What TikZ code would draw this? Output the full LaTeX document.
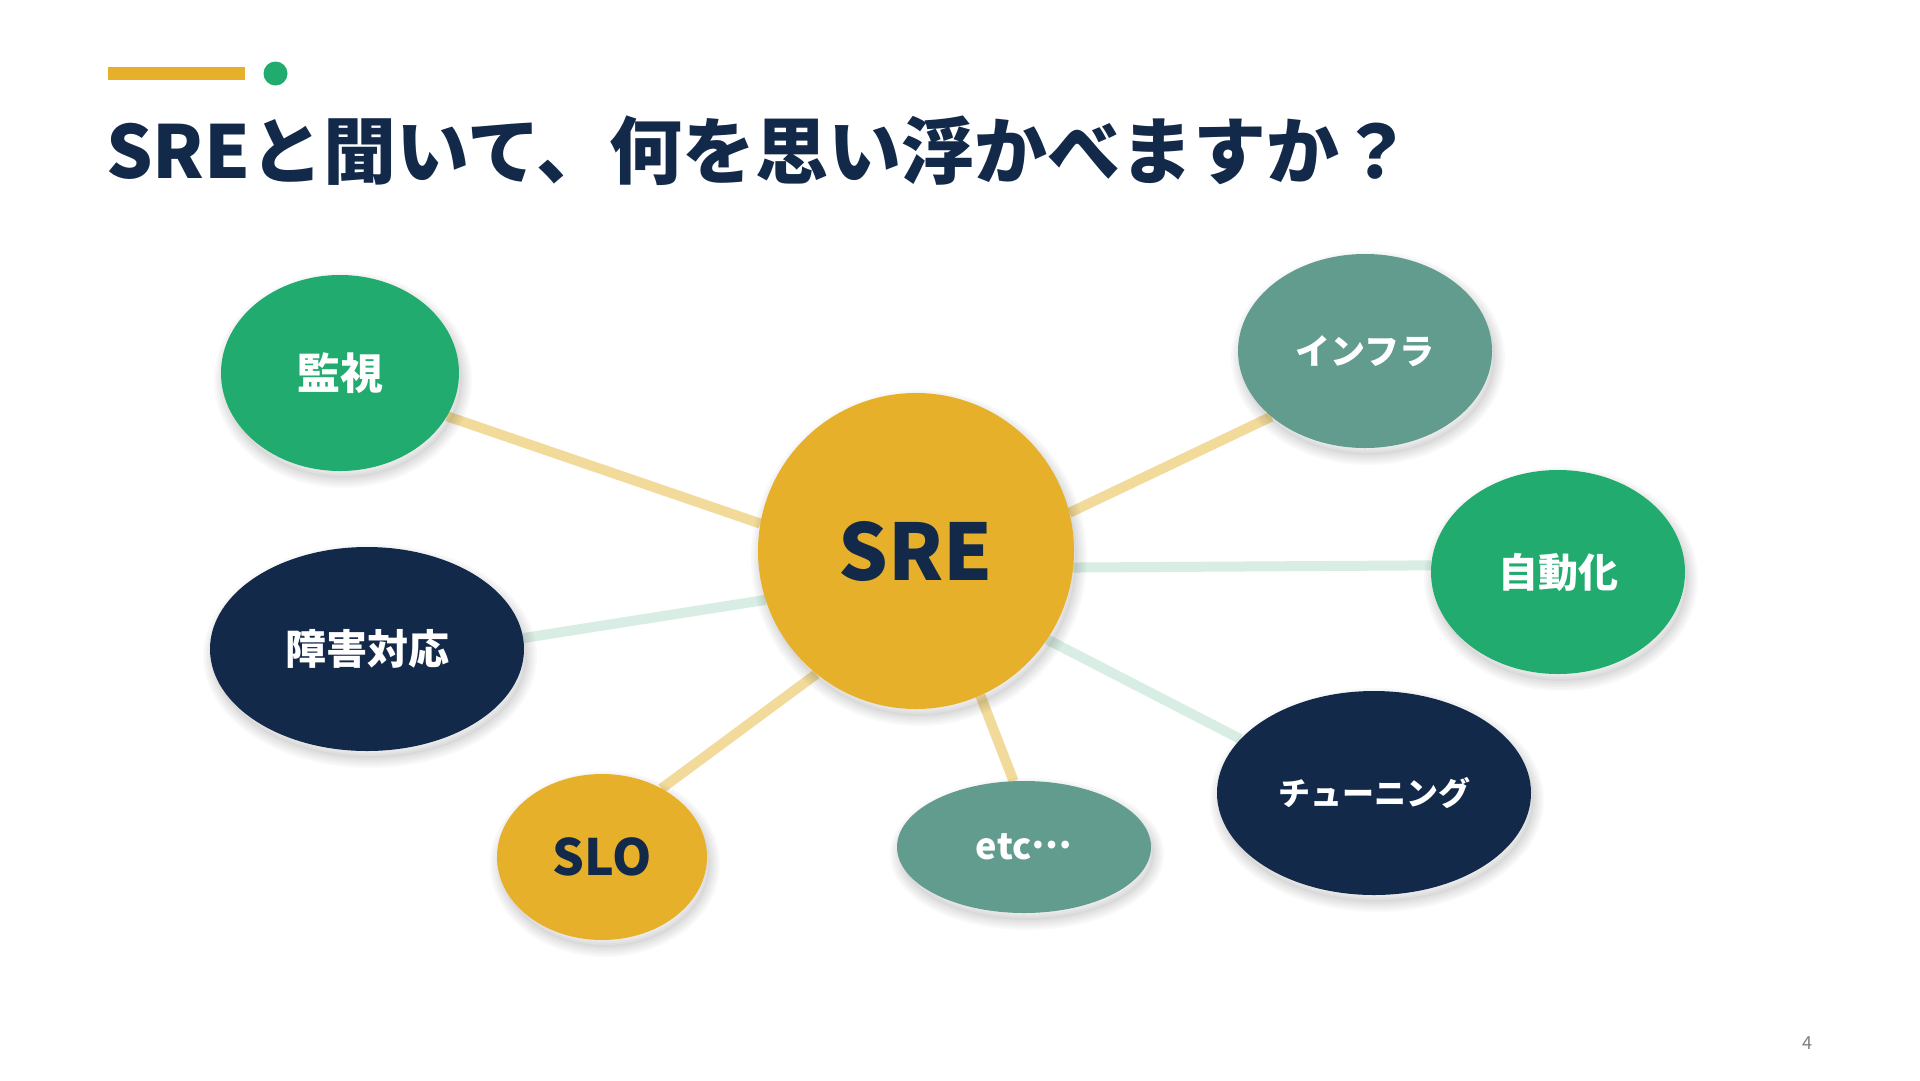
\documentclass[tikz,border=0pt]{standalone}
\usepackage{fontspec}
\newfontfamily\jp{Noto Sans CJK JP}
\usetikzlibrary{shapes.geometric,backgrounds}
\definecolor{cyellow}{HTML}{E6B02A}
\definecolor{cgreen}{HTML}{21AB6E}
\definecolor{cnavy}{HTML}{12294A}
\definecolor{cteal}{HTML}{629C8F}
\definecolor{lyellow}{HTML}{F2DA9A}
\definecolor{lgreen}{HTML}{D8EEE4}
\begin{document}
\begin{tikzpicture}[x=1pt,y=-1pt,
  shl/.style={preaction={draw=black, line width=#1, draw opacity=0.022,
      transform canvas={shift={(3pt,-7pt)}}}},
  bub/.style={ellipse, inner sep=0pt, text=white,
    preaction={fill=black, fill opacity=0.03, transform canvas={shift={(3pt,-7pt)}}},
    shl=4pt, shl=8pt, shl=12pt, shl=16pt, shl=20pt},
  lk/.style={line width=10pt},
  fs/.style={font=\jp\bfseries\fontsize{#1}{#1}\selectfont}]
\begin{pgfonlayer}{background}
\fill[white] (0,0) rectangle (1920,1080);
\end{pgfonlayer}
\useasboundingbox (0,0) rectangle (1920,1080);

% header decoration
\fill[cyellow] (108,67) rectangle (245,80);
\fill[cgreen] (275.5,73.5) circle (12);
\node[anchor=base west, inner sep=0pt, text=cnavy, fs=73] (title) at (106,178) {SREと聞いて、何を思い浮かべますか？};

% nodes
\node[bub, fill=cyellow, text=cnavy, minimum width=316pt, minimum height=316pt, fs=78] (sre) at (916,551) {SRE};
\node[bub, fill=cgreen, minimum width=238pt, minimum height=196pt, fs=43] (kanshi) at (340,373) {監視};
\node[bub, fill=cnavy, minimum width=314pt, minimum height=204pt, fs=41] (shogai) at (367,649) {障害対応};
\node[bub, fill=cyellow, text=cnavy, minimum width=210pt, minimum height=166pt, fs=50] (slo) at (602,857) {SLO};
\node[bub, fill=cteal, minimum width=254pt, minimum height=132pt, fs=36] (etc) at (1024,847) {etc\raisebox{0.3em}{…}};
\node[bub, fill=cnavy, minimum width=314pt, minimum height=204pt, fs=32] (tuning) at (1374,793) {チューニング};
\node[bub, fill=cgreen, minimum width=254pt, minimum height=204pt, fs=40] (jido) at (1558,572) {自動化};
\node[bub, fill=cteal, minimum width=254pt, minimum height=194pt, fs=35] (infra) at (1365,351) {インフラ};

\node[inner sep=0pt, text=gray, font=\jp\fontsize{18}{18}\selectfont] (pnum) at (1807,1043) {4};

% connectors
\begin{pgfonlayer}{background}
\draw[lk, lyellow] (sre.170) -- (kanshi.-22);
\draw[lk, lgreen] (sre.198) -- (shogai.4);
\draw[lk, lyellow] (sre.231) -- (slo.49);
\draw[lk, lyellow] (sre.-66) -- (etc.99);
\draw[lk, lgreen] (sre.-34) -- (tuning.158);
\draw[lk, lgreen] (sre.-6.5) -- (jido.177);
\draw[lk, lyellow] (sre.14) -- (infra.215);
\end{pgfonlayer}
\end{tikzpicture}
\end{document}
